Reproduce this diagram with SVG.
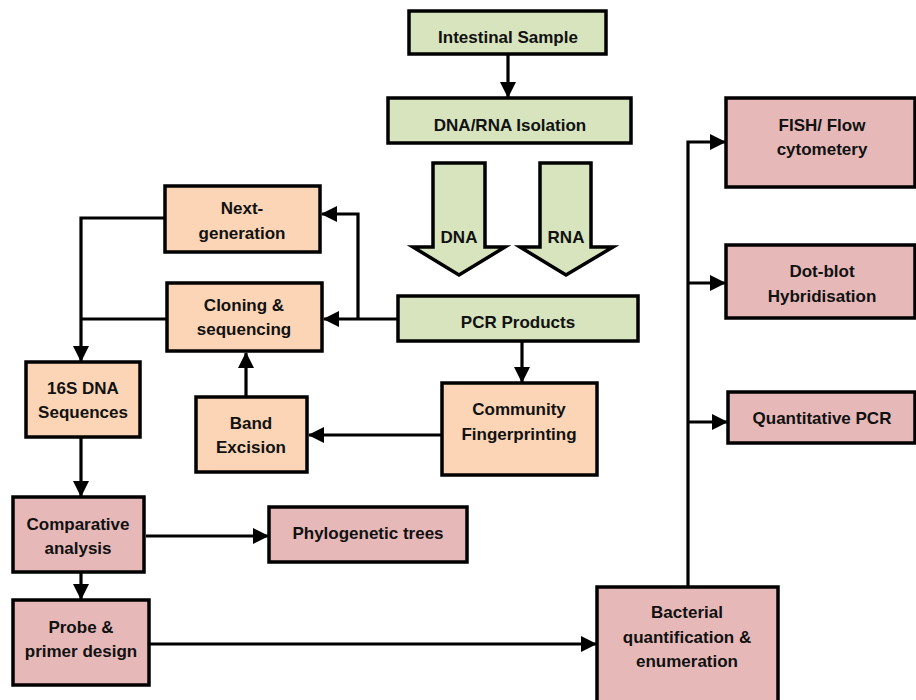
<svg xmlns="http://www.w3.org/2000/svg" width="916" height="700" viewBox="0 0 916 700">
<defs>
<style>
.g{fill:#d7e4bd;stroke:#000;stroke-width:3.5}
.o{fill:#fbd5b5;stroke:#000;stroke-width:3.5}
.p{fill:#e6b9b8;stroke:#000;stroke-width:3.5}
text{font-family:"Liberation Sans",Arial,sans-serif;font-weight:bold;font-size:17px;fill:#111;text-anchor:middle}
.c{fill:none;stroke:#000;stroke-width:3.2}
</style>
<marker id="a" viewBox="0 0 16 16" refX="15" refY="8" markerWidth="16" markerHeight="16" markerUnits="userSpaceOnUse" orient="auto">
<path d="M0,0 L16,8 L0,16 z" fill="#000"/>
</marker>
</defs>
<g id="connectors">
<path class="c" d="M508,54 V97" marker-end="url(#a)"/>
<path class="c" d="M398,319 H324" marker-end="url(#a)"/>
<path class="c" d="M358,319 V214 H322" marker-end="url(#a)"/>
<path class="c" d="M165,218 H81 V361" marker-end="url(#a)"/>
<path class="c" d="M167,319 H81"/>
<path class="c" d="M522,341 V382" marker-end="url(#a)"/>
<path class="c" d="M442,435 H309" marker-end="url(#a)"/>
<path class="c" d="M246,397 V353" marker-end="url(#a)"/>
<path class="c" d="M81,437 V496" marker-end="url(#a)"/>
<path class="c" d="M146,536 H268" marker-end="url(#a)"/>
<path class="c" d="M81,572 V599" marker-end="url(#a)"/>
<path class="c" d="M149,644 H596" marker-end="url(#a)"/>
<path class="c" d="M688,587 V142 H725" marker-end="url(#a)"/>
<path class="c" d="M688,283 H725" marker-end="url(#a)"/>
<path class="c" d="M688,422 H727" marker-end="url(#a)"/>
</g>
<g id="intestinal-sample"><rect class="g" x="409" y="11" width="197" height="43"/><text x="508" y="43">Intestinal Sample</text></g>
<g id="dna-rna-isolation"><rect class="g" x="388" y="98" width="243" height="45"/><text x="510" y="131">DNA/RNA Isolation</text></g>
<g id="dna-arrow"><path class="g" d="M433,163 H485 V247 H505 L459,275 L413,247 H433 Z"/><text x="459" y="243">DNA</text></g>
<g id="rna-arrow"><path class="g" d="M540,163 H591 V247 H613 L566,275 L520,247 H540 Z"/><text x="566" y="243">RNA</text></g>
<g id="pcr-products"><rect class="g" x="398" y="296" width="240" height="45"/><text x="518" y="328">PCR Products</text></g>
<g id="next-generation"><rect class="o" x="165" y="186" width="155" height="66"/><text x="242" y="214">Next-</text><text x="242" y="239">generation</text></g>
<g id="cloning-sequencing"><rect class="o" x="167" y="283" width="155" height="68"/><text x="244" y="311">Cloning &amp;</text><text x="244" y="335">sequencing</text></g>
<g id="16s-dna-sequences"><rect class="o" x="26" y="362" width="114" height="75"/><text x="83" y="394">16S DNA</text><text x="83" y="418">Sequences</text></g>
<g id="band-excision"><rect class="o" x="196" y="397" width="111" height="75"/><text x="251" y="429">Band</text><text x="251" y="453">Excision</text></g>
<g id="community-fingerprinting"><rect class="o" x="442" y="383" width="155" height="92"/><text x="519" y="415">Community</text><text x="519" y="440">Fingerprinting</text></g>
<g id="comparative-analysis"><rect class="p" x="13" y="497" width="131" height="75"/><text x="78" y="530">Comparative</text><text x="78" y="554">analysis</text></g>
<g id="phylogenetic-trees"><rect class="p" x="269" y="507" width="198" height="55"/><text x="368" y="539">Phylogenetic trees</text></g>
<g id="probe-primer-design"><rect class="p" x="13" y="600" width="136" height="85"/><text x="81" y="633">Probe &amp;</text><text x="81" y="657">primer design</text></g>
<g id="bacterial-quantification"><rect class="p" x="597" y="587" width="181" height="120"/><text x="687" y="618">Bacterial</text><text x="687" y="643">quantification &amp;</text><text x="687" y="667">enumeration</text></g>
<g id="fish-flow"><rect class="p" x="726" y="98" width="189" height="89"/><text x="822" y="131">FISH/ Flow</text><text x="822" y="155">cytometery</text></g>
<g id="dot-blot"><rect class="p" x="726" y="245" width="189" height="73"/><text x="822" y="277">Dot-blot</text><text x="822" y="302">Hybridisation</text></g>
<g id="quantitative-pcr"><rect class="p" x="728" y="392" width="187" height="51"/><text x="822" y="424">Quantitative PCR</text></g>
</svg>
